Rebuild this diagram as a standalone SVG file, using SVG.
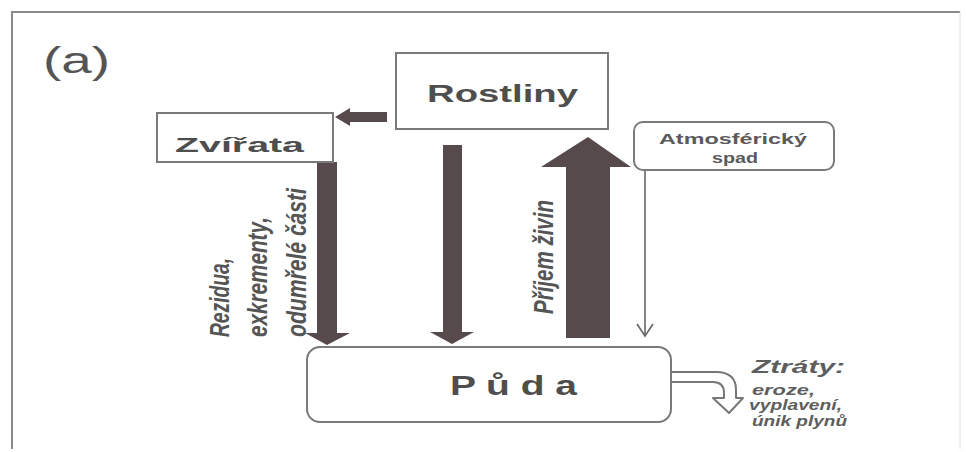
<svg xmlns="http://www.w3.org/2000/svg" width="966" height="452" viewBox="0 0 966 452">
  <style>
    .frame { stroke: #8a8a8a; stroke-width: 2; fill: none; }
    .box { fill: #ffffff; stroke: #7a7a7a; stroke-width: 2; }
    .flow { fill: #574a4c; }
    .thin { stroke: #666; stroke-width: 1.6; fill: none; }
    .hollow { fill: #ffffff; stroke: #777; stroke-width: 2; stroke-linejoin: round; }
    text { font-family: "Liberation Sans", Arial, sans-serif; fill: #555; }
    .title { font-weight: bold; fill: #4e4e4e; }
    .side { font-weight: bold; font-style: italic; font-size: 28px; fill: #555; }
    .small { font-weight: bold; font-size: 15px; fill: #5a5a5a; }
    .loss { font-weight: bold; font-style: italic; fill: #5e5e5e; }
  </style>

  <!-- page frame -->
  <g id="frame">
    <path class="frame" d="M12,449 V12 H960"/>
    <path d="M960,12 V449" stroke="#dcdcdc" stroke-width="1" fill="none"/>
    <text x="43" y="73" font-size="37" fill="#666" textLength="67" lengthAdjust="spacingAndGlyphs">(a)</text>
  </g>

  <!-- connectors -->
  <g id="connectors">
    <!-- Rostliny -> Zvířata -->
    <path class="flow" d="M387,112 H350 V108 L335,117 L350,126 V122 H387 Z"/>
    <!-- Zvířata -> Půda -->
    <path class="flow" d="M317,162 H337 V333 H350 L327,345 L305,333 H317 Z"/>
    <!-- Rostliny -> Půda -->
    <path class="flow" d="M443,145 H462 V332 H474 L452,344 L430,332 H443 Z"/>
    <!-- Půda -> Rostliny (příjem živin) -->
    <path class="flow" d="M566,338 V167 H541 L588,137 L631,167 H610 V338 Z"/>
    <!-- atmospheric deposition -->
    <path class="thin" d="M645,170 V336"/>
    <path class="thin" d="M637,324 L645,336 L653,324"/>
    <!-- losses -->
    <path class="hollow" d="M670,372 H716 Q736,372 736,390 V398 H743 L729,413 L713,398 H724 V393 Q724,382 713,382 H670"/>

    <text class="side" transform="translate(229,337) rotate(-90)" textLength="79" lengthAdjust="spacingAndGlyphs">Rezidua,</text>
    <text class="side" transform="translate(267,337) rotate(-90)" textLength="120" lengthAdjust="spacingAndGlyphs">exkrementy,</text>
    <text class="side" transform="translate(306,337) rotate(-90)" textLength="149" lengthAdjust="spacingAndGlyphs">odumřelé části</text>
    <text class="side" transform="translate(553,314) rotate(-90)" textLength="114" lengthAdjust="spacingAndGlyphs">Příjem živin</text>

    <text class="loss" x="752" y="373" font-size="19" textLength="93" lengthAdjust="spacingAndGlyphs">Ztráty:</text>
    <text class="loss" x="752" y="395" font-size="14" textLength="63" lengthAdjust="spacingAndGlyphs">eroze,</text>
    <text class="loss" x="749" y="410" font-size="14" textLength="93" lengthAdjust="spacingAndGlyphs">vyplavení,</text>
    <text class="loss" x="752" y="426" font-size="14" textLength="95" lengthAdjust="spacingAndGlyphs">únik plynů</text>
  </g>

  <g id="rostliny">
    <rect class="box" x="396" y="53" width="212" height="76"/>
    <text class="title" x="427" y="102" font-size="24" textLength="151" lengthAdjust="spacingAndGlyphs">Rostliny</text>
  </g>

  <g id="zvirata">
    <rect class="box" x="157" y="113" width="176" height="49"/>
    <text class="title" x="175" y="152" font-size="21" textLength="129" lengthAdjust="spacingAndGlyphs">Zvířata</text>
  </g>

  <g id="atmosfericky-spad">
    <rect class="box" x="634" y="122" width="200" height="48" rx="9"/>
    <text class="small" x="659" y="144" textLength="148" lengthAdjust="spacingAndGlyphs">Atmosférický</text>
    <text class="small" x="712" y="163" textLength="46" lengthAdjust="spacingAndGlyphs">spad</text>
  </g>

  <g id="puda">
    <rect class="box" x="307" y="347" width="364" height="75" rx="13"/>
    <text class="title" x="450" y="395" font-size="27" textLength="127" lengthAdjust="spacingAndGlyphs">P ů d a</text>
  </g>
</svg>
